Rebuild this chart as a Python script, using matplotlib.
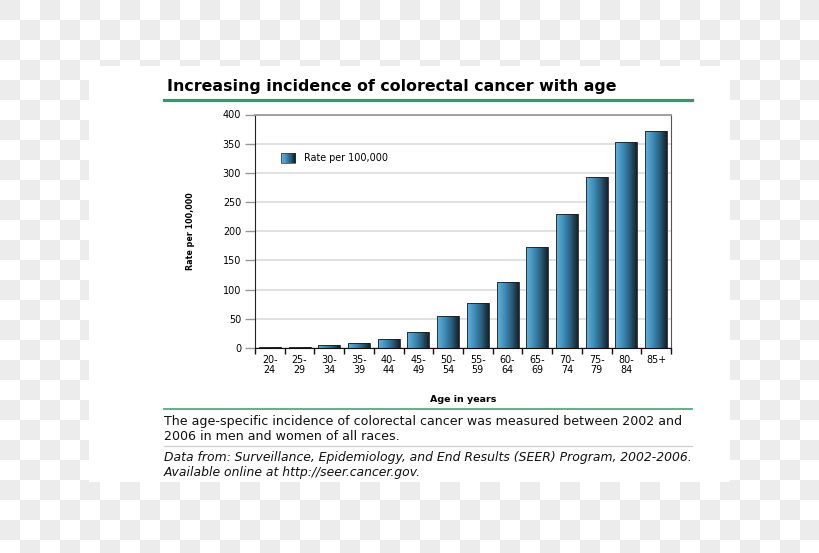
#!/usr/bin/env python3
import matplotlib
matplotlib.use("Agg")
import matplotlib.pyplot as plt
import numpy as np
from matplotlib.colors import LinearSegmentedColormap
from matplotlib.lines import Line2D
from matplotlib.patches import Rectangle
from matplotlib.legend_handler import HandlerPatch

# ---------------------------------------------------------
# DATA
# ---------------------------------------------------------
age_groups = ["20-\n24", "25-\n29", "30-\n34", "35-\n39", "40-\n44", "45-\n49",
              "50-\n54", "55-\n59", "60-\n64", "65-\n69", "70-\n74", "75-\n79",
              "80-\n84", "85+"]
rate = [1.0, 2.3, 4.6, 8.8, 15.3, 28.2, 54.1, 77.4, 113.8, 172.8, 229.6,
        292.8, 353.4, 371.6]
y_ticks = [0, 50, 100, 150, 200, 250, 300, 350, 400]

title = "Increasing incidence of colorectal cancer with age"
caption = ("The age-specific incidence of colorectal cancer was measured between 2002 and\n"
           "2006 in men and women of all races.")
source = ("Data from: Surveillance, Epidemiology, and End Results (SEER) Program, 2002-2006.\n"
          "Available online at http://seer.cancer.gov.")

# ---------------------------------------------------------
# STYLE
# ---------------------------------------------------------
W, H = 820, 553
bar_cmap = LinearSegmentedColormap.from_list(
    "bar", ["#65b3dc", "#3f8fbb", "#2a5f7e", "#15222b"])
green = "#2f9a6c"
tick_fs = 6.9


def fx(px):
    return px / W


def fy(py):
    return 1 - py / H


fig = plt.figure(figsize=(W / 100, H / 100), dpi=100)

# ----------------------------- background checkerboard + white panel
bg = fig.add_axes([0, 0, 1, 1])
ii, jj = np.indices((H, W))
checker = ((ii // 20 + jj // 20) % 2 == 0).astype(float)
bg.imshow(checker, cmap=LinearSegmentedColormap.from_list("ck", ["#ffffff", "#ececec"]),
          extent=[0, W, H, 0], aspect="auto", interpolation="nearest")
bg.add_patch(Rectangle((89, 66), 641, 416, facecolor="white", edgecolor="none"))
bg.set_xlim(0, W)
bg.set_ylim(H, 0)
bg.axis("off")

# ----------------------------- chart axes
ax = fig.add_axes([fx(255), fy(348), fx(416), 233.5 / H])
x = np.arange(len(rate))
bars = ax.bar(x, rate, width=0.74, color="none", edgecolor="#1c1c1c",
              linewidth=0.6, zorder=3)

grad = np.linspace(0, 1, 64).reshape(1, -1)
for b in bars:
    x0, y0 = b.get_x(), b.get_y()
    im = ax.imshow(grad, cmap=bar_cmap, extent=[x0, x0 + b.get_width(), y0, y0 + b.get_height()],
                   aspect="auto", zorder=2, interpolation="bicubic")
    im.set_clip_path(b)

ax.set_xlim(-0.5, len(rate) - 0.5)
ax.set_ylim(0, 400)
ax.set_yticks(y_ticks)
ax.set_yticklabels([str(v) for v in y_ticks], fontsize=tick_fs)
ax.tick_params(axis="y", length=7, width=1, color="#999999", pad=3)
ax.grid(axis="y", color="#d9d9d9", linewidth=1.1, zorder=0)
ax.set_axisbelow(True)

ax.set_xticks(x)
ax.set_xticklabels(age_groups, fontsize=tick_fs, linespacing=1.05)
ax.tick_params(axis="x", which="major", length=0, pad=5)
ax.set_xticks(np.arange(-0.5, len(rate), 1), minor=True)
ax.tick_params(axis="x", which="minor", length=4, width=1, color="#111111")

ax.spines["left"].set_color("#222222")
ax.spines["bottom"].set_color("#111111")
ax.spines["top"].set_color("#9a9a9a")
ax.spines["top"].set_linewidth(1.3)
ax.spines["right"].set_color("#555555")

ax.set_xlabel("Age in years", fontsize=6.8, fontweight="bold", labelpad=14)
ax.set_ylabel("Rate per 100,000", fontsize=6.4, fontweight="bold",
              family=["Liberation Sans Narrow", "DejaVu Sans"], fontstretch="condensed",
              labelpad=20)


# ----------------------------- legend with gradient swatch
class GradientHandler(HandlerPatch):
    def create_artists(self, legend, orig_handle, xdescent, ydescent,
                       width, height, fontsize, trans):
        n = 12
        arts = []
        for k in range(n):
            r = Rectangle((-xdescent + width * k / n, -ydescent), width / n + 0.2, height,
                          facecolor=bar_cmap(k / (n - 1)), edgecolor="none", transform=trans)
            arts.append(r)
        arts.append(Rectangle((-xdescent, -ydescent), width, height, facecolor="none",
                              edgecolor="#333333", linewidth=0.5, transform=trans))
        return arts


swatch = Rectangle((0, 0), 1, 1)
ax.legend([swatch], ["Rate per 100,000"], loc="upper left",
          bbox_to_anchor=(0.042, 0.872), frameon=False, fontsize=6.9,
          handlelength=1.5, handleheight=1.2, handletextpad=0.9,
          handler_map={Rectangle: GradientHandler()})

# ----------------------------- title, rules and notes
fig.text(fx(167), fy(86), title, fontsize=11.4, fontweight="bold", va="center", ha="left")
fig.add_artist(Line2D([fx(164), fx(692)], [fy(100), fy(100)], color=green, linewidth=2.3))
fig.add_artist(Line2D([fx(164), fx(692)], [fy(409), fy(409)], color="#4fae84", linewidth=1.3))
fig.text(fx(164), fy(429), caption, fontsize=9.1, va="center", ha="left",
         linespacing=1.12, color="#111111")
fig.add_artist(Line2D([fx(164), fx(692)], [fy(446), fy(446)], color="#cfcfcf", linewidth=0.9))
fig.text(fx(164), fy(465), source, fontsize=8.9, style="italic", va="center", ha="left",
         linespacing=1.14, color="#111111")

fig.savefig("out.png", dpi=100)
plt.close(fig)
